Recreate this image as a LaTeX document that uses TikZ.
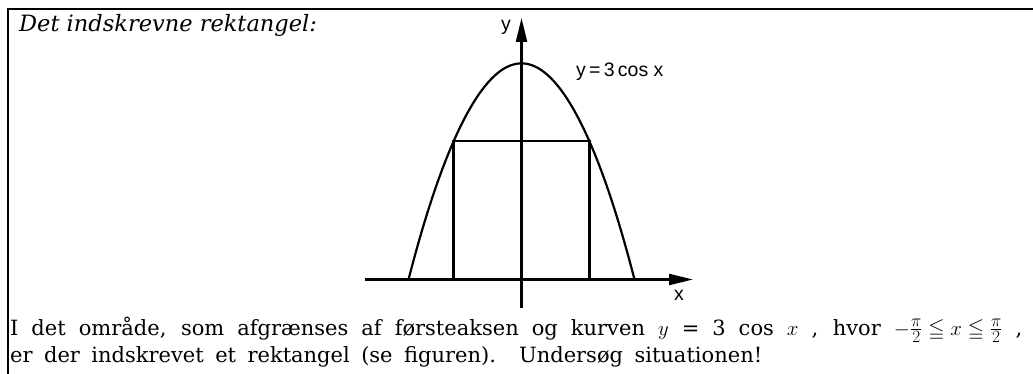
\documentclass[tikz,border=0pt]{standalone}
\usepackage{amsmath}
\usepackage{amssymb}
\usepackage{fontspec}
\setmainfont{DejaVu Serif}
\setsansfont{Liberation Sans}
\usetikzlibrary{arrows.meta}
\DeclareMathSizes{21}{21}{16}{12}

\begin{document}
\begin{tikzpicture}[
    x = 1pt, y = -1pt,
    ramme/.style = {line width=2pt},
    akse/.style = {line width=2.2pt, -{Triangle[length=24pt, width=11pt]}},
    kurve/.style = {line width=2.2pt},
    tekst/.style = {inner sep=0pt, anchor=base west, font=\fontsize{21}{25}\selectfont},
    fig/.style = {inner sep=0pt, font=\sffamily\fontsize{19.5}{22}\selectfont}
    ]
  \useasboundingbox (0,0) rectangle (1033,374);

  % ramme
  \draw[ramme] (1033,9) -- (8.3,9) -- (8.3,374);

  % akser
  \coordinate (O) at (521.5,279.5);
  \coordinate (xs) at (365,279.5);
  \coordinate (xe) at (693,279.5);
  \coordinate (ys) at (521.5,308);
  \coordinate (ye) at (521.5,18);
  \draw[akse] (xs) -- (xe);
  \draw[akse] (ys) -- (ye);

  % kurven og rektanglet
  \coordinate (A) at (408.5,279.5);
  \coordinate (T) at (521.5,63.3);
  \coordinate (B) at (634.5,279.5);
  \draw[kurve] (A) parabola bend (T) (B);
  \coordinate (r1) at (453.5,279.5);
  \coordinate (r2) at (453.5,141);
  \coordinate (r3) at (589.5,141);
  \coordinate (r4) at (589.5,279.5);
  \draw[kurve] (r1) -- (r2) -- (r3) -- (r4);

  \node[fig] (ylab) at (506,27) {y};
  \node[fig] (xlab) at (679,295) {x};
  \node[fig, anchor=west] (flab) at (576,72) {y\,=\,3\,cos x};

  % tekst
  \node[tekst] (titel) at (19,32)
    {\fontsize{22.5}{26}\selectfont\itshape Det indskrevne rektangel:};
  \node[tekst] (linje1) at (10,335)
    {\makebox[1012pt][s]{I det område, som afgrænses af førsteaksen og kurven $y$ = 3 cos $x$ , hvor \mbox{$-\frac{\pi}{2}\leqq x\leqq\frac{\pi}{2}$} ,}};
  \node[tekst] (linje2) at (10,362)
    {\makebox[752pt][s]{er der indskrevet et rektangel (se figuren). Undersøg situationen!}};
\end{tikzpicture}
\end{document}
